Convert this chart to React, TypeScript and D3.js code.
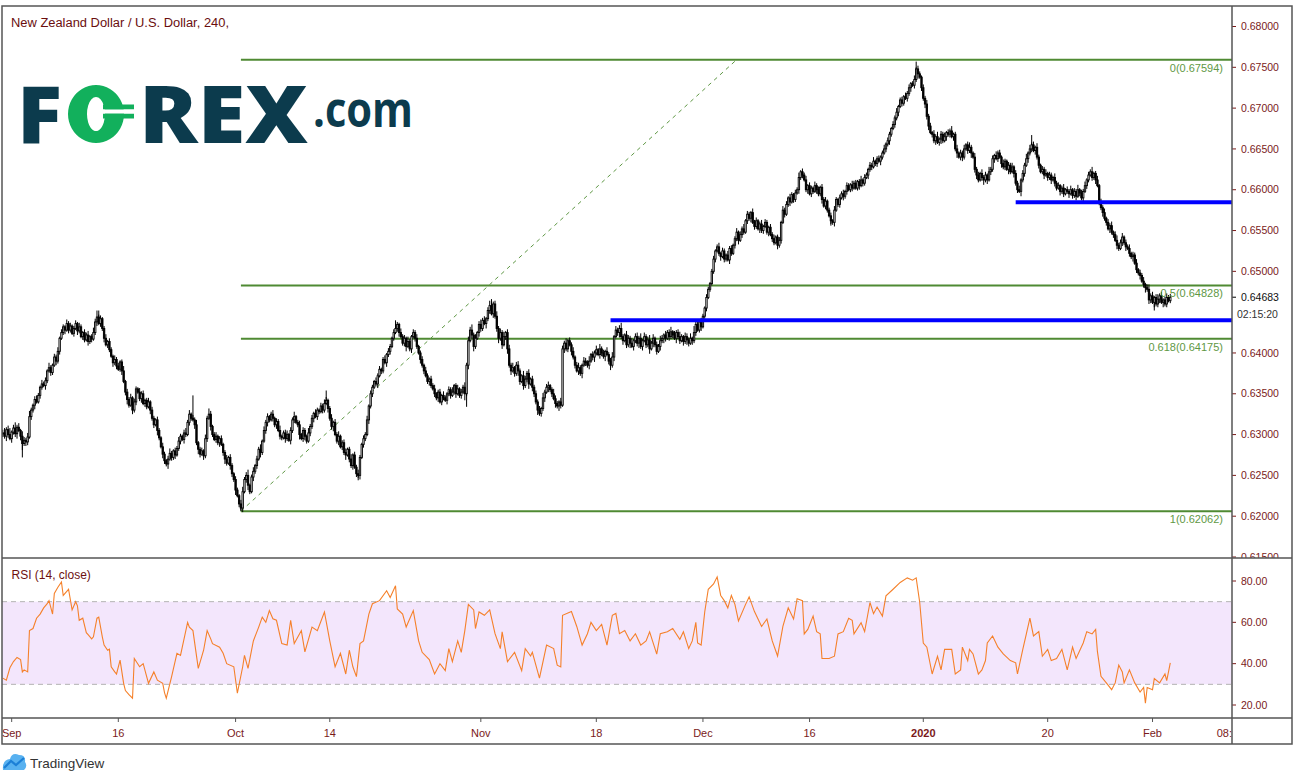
import React from "react";
import * as d3 from "d3";

// ---- DATA ----
// 4-hour closes, NZD/USD, one per bar (bar 0 = first bar on the left)
const closes = [
  0.6302, 0.6298, 0.6306, 0.6300, 0.6295, 0.6303, 0.6308, 0.6301, 0.6309, 0.6305, 0.6298, 0.6289, 0.6293, 0.6291, 0.6297, 0.6322,
  0.6330, 0.6336, 0.6343, 0.6340, 0.6348,
  0.6358, 0.6362, 0.6360, 0.6366,
  0.6378, 0.6382, 0.6376, 0.6385,
  0.6395, 0.6390, 0.6402,
  0.6418, 0.6425, 0.6432, 0.6428,
  0.6436, 0.6428, 0.6433, 0.6424, 0.6430, 0.6436,
  0.6427, 0.6432, 0.6420, 0.6425, 0.6416, 0.6422,
  0.6414, 0.6420, 0.6417, 0.6425,
  0.6438, 0.6444, 0.6436, 0.6442, 0.6430,
  0.6418, 0.6410, 0.6414, 0.6404,
  0.6396, 0.6388, 0.6392, 0.6384, 0.6380, 0.6389, 0.6378,
  0.6365, 0.6352, 0.6343, 0.6336, 0.6345, 0.6330,
  0.6340, 0.6356, 0.6352, 0.6344,
  0.6350, 0.6338, 0.6342, 0.6334, 0.6340, 0.6330,
  0.6320, 0.6312, 0.6318, 0.6305,
  0.6296, 0.6285, 0.6276, 0.6268, 0.6264,
  0.6270, 0.6277, 0.6272, 0.6280, 0.6275, 0.6283,
  0.6292, 0.6298, 0.6294, 0.6302, 0.6300,
  0.6315, 0.6325, 0.6320, 0.6318,
  0.6312, 0.6290, 0.6282, 0.6276, 0.6280, 0.6274,
  0.6295, 0.6320, 0.6325, 0.6310,
  0.6300, 0.6294, 0.6298, 0.6290, 0.6295, 0.6288,
  0.6278, 0.6270, 0.6265, 0.6272, 0.6262,
  0.6252, 0.6245, 0.6232, 0.6225, 0.6215, 0.6210,
  0.6230, 0.6245, 0.6250, 0.6238, 0.6230, 0.6248, 0.6255,
  0.6262, 0.6270, 0.6282, 0.6278, 0.6292,
  0.6305, 0.6315, 0.6322, 0.6318, 0.6325, 0.6320, 0.6312, 0.6316,
  0.6305, 0.6298, 0.6296, 0.6302, 0.6295, 0.6300, 0.6293, 0.6305,
  0.6318, 0.6322, 0.6315, 0.6312,
  0.6300, 0.6295, 0.6305, 0.6298, 0.6292, 0.6302, 0.6310,
  0.6320, 0.6326, 0.6322, 0.6330, 0.6328, 0.6335, 0.6330, 0.6338, 0.6342,
  0.6332, 0.6320, 0.6310, 0.6315,
  0.6300, 0.6292, 0.6298, 0.6285, 0.6290, 0.6278, 0.6275, 0.6282,
  0.6270, 0.6262, 0.6275, 0.6260, 0.6252, 0.6250,
  0.6272, 0.6288, 0.6295, 0.6300, 0.6318,
  0.6335, 0.6350, 0.6358, 0.6365, 0.6362, 0.6372,
  0.6380, 0.6378, 0.6392, 0.6388, 0.6398, 0.6402, 0.6408,
  0.6418, 0.6425, 0.6430, 0.6435, 0.6425, 0.6420,
  0.6412, 0.6418, 0.6408, 0.6414, 0.6405, 0.6420, 0.6425,
  0.6418, 0.6408, 0.6400, 0.6392,
  0.6385, 0.6378, 0.6372, 0.6365, 0.6368, 0.6360, 0.6356,
  0.6350, 0.6345, 0.6352, 0.6340, 0.6348, 0.6345, 0.6342, 0.6350,
  0.6355, 0.6348, 0.6352, 0.6360, 0.6350, 0.6356, 0.6348, 0.6352, 0.6358, 0.6350,
  0.6385,
  0.6415, 0.6428, 0.6422, 0.6408, 0.6418, 0.6425,
  0.6435, 0.6430, 0.6440, 0.6436, 0.6442,
  0.6452, 0.6458, 0.6448, 0.6460, 0.6445,
  0.6430, 0.6418, 0.6425, 0.6410, 0.6420,
  0.6425, 0.6405, 0.6385, 0.6378, 0.6382,
  0.6375, 0.6385, 0.6378, 0.6365, 0.6372, 0.6360, 0.6368, 0.6375,
  0.6362, 0.6368, 0.6358, 0.6350,
  0.6340, 0.6330, 0.6326, 0.6332,
  0.6345, 0.6352, 0.6358, 0.6360, 0.6355, 0.6350, 0.6344,
  0.6338, 0.6335, 0.6340, 0.6336,
  0.6405,
  0.6412, 0.6405, 0.6415, 0.6410, 0.6402, 0.6395, 0.6385,
  0.6378, 0.6382, 0.6375, 0.6385, 0.6390,
  0.6388, 0.6385, 0.6390, 0.6398, 0.6395,
  0.6400, 0.6404, 0.6398, 0.6405, 0.6400, 0.6396, 0.6402, 0.6398,
  0.6390, 0.6385, 0.6395,
  0.6420, 0.6428, 0.6425, 0.6430, 0.6420,
  0.6415, 0.6422, 0.6410, 0.6418, 0.6412, 0.6408, 0.6415,
  0.6420, 0.6412, 0.6418, 0.6408, 0.6415, 0.6420, 0.6410, 0.6416, 0.6405, 0.6412, 0.6418,
  0.6410, 0.6402, 0.6408, 0.6415,
  0.6418, 0.6422, 0.6418, 0.6425, 0.6420, 0.6426, 0.6422, 0.6418, 0.6425, 0.6420, 0.6415, 0.6420, 0.6414, 0.6420, 0.6416, 0.6412, 0.6418, 0.6415,
  0.6425, 0.6435, 0.6428,
  0.6438, 0.6432, 0.6445,
  0.6455, 0.6468, 0.6478, 0.6485,
  0.6500, 0.6515, 0.6525, 0.6530,
  0.6522, 0.6518, 0.6525, 0.6515, 0.6520, 0.6514,
  0.6528, 0.6522, 0.6532,
  0.6540, 0.6548, 0.6538, 0.6545,
  0.6552, 0.6548, 0.6562, 0.6570,
  0.6565, 0.6572, 0.6560,
  0.6555, 0.6562, 0.6552, 0.6558, 0.6550, 0.6555, 0.6560, 0.6548, 0.6554, 0.6545,
  0.6540, 0.6535, 0.6542, 0.6532, 0.6538,
  0.6560, 0.6575, 0.6570, 0.6582,
  0.6590, 0.6585, 0.6594, 0.6588, 0.6596, 0.6600,
  0.6615, 0.6622, 0.6618, 0.6612,
  0.6600, 0.6605, 0.6595, 0.6602, 0.6598, 0.6605, 0.6600, 0.6595, 0.6603,
  0.6588, 0.6580, 0.6586, 0.6575,
  0.6568, 0.6562, 0.6560,
  0.6575, 0.6588, 0.6582, 0.6590, 0.6595, 0.6592,
  0.6598, 0.6605, 0.6600, 0.6606, 0.6602,
  0.6608, 0.6602, 0.6610, 0.6605, 0.6612, 0.6608, 0.6615, 0.6618,
  0.6625, 0.6630, 0.6628, 0.6635, 0.6632, 0.6638, 0.6635, 0.6640,
  0.6645, 0.6650, 0.6656, 0.6660,
  0.6668, 0.6675, 0.6680, 0.6688, 0.6695,
  0.6702, 0.6710, 0.6706, 0.6714, 0.6712, 0.6718,
  0.6725, 0.6730, 0.6728, 0.6735,
  0.6748, 0.6742, 0.6738,
  0.6725, 0.6712, 0.6705,
  0.6690, 0.6678, 0.6670, 0.6668,
  0.6660, 0.6665, 0.6658, 0.6662,
  0.6668, 0.6660, 0.6665, 0.6670, 0.6668, 0.6672, 0.6665, 0.6668,
  0.6650, 0.6645, 0.6640, 0.6645, 0.6640,
  0.6650, 0.6655, 0.6648, 0.6652, 0.6645, 0.6640,
  0.6625, 0.6618, 0.6612, 0.6620, 0.6615, 0.6612,
  0.6618, 0.6612, 0.6622, 0.6625,
  0.6638, 0.6642, 0.6638, 0.6645, 0.6640,
  0.6632, 0.6628, 0.6635, 0.6625, 0.6630, 0.6622, 0.6628, 0.6620,
  0.6608, 0.6600, 0.6598,
  0.6612, 0.6620, 0.6630, 0.6638,
  0.6645, 0.6650, 0.6655, 0.6648, 0.6652, 0.6640,
  0.6630, 0.6622, 0.6625,
  0.6618, 0.6620, 0.6615, 0.6618, 0.6612, 0.6615,
  0.6608, 0.6602, 0.6605, 0.6598, 0.6602, 0.6595, 0.6600, 0.6598,
  0.6595, 0.6600, 0.6593, 0.6598, 0.6592, 0.6600, 0.6596, 0.6590, 0.6598, 0.6605,
  0.6612, 0.6618, 0.6622, 0.6615, 0.6620, 0.6612, 0.6605,
  0.6585, 0.6578, 0.6572,
  0.6565, 0.6560, 0.6552, 0.6556, 0.6548, 0.6545,
  0.6538, 0.6532, 0.6528, 0.6535,
  0.6542, 0.6535, 0.6530, 0.6528,
  0.6522, 0.6518, 0.6520,
  0.6510, 0.6502, 0.6498, 0.6495,
  0.6488, 0.6484, 0.6480, 0.6478,
  0.6465, 0.6470, 0.6462, 0.6468, 0.6460, 0.6466, 0.6470, 0.6462, 0.6465, 0.6460, 0.6468, 0.6464, 0.64683,
];

// estimated upper / lower wick length of each bar, in pips (0.0001)
const wickUpPips = [
  4,6,3,5,8,2,4,7,3,5,2,6,4,3,5,7,3,2,4,5,
  3,2,5,3,4,2,6,3,2,4,3,5,2,4,3,2,5,3,4,2,
  3,4,2,5,3,2,4,3,5,2,3,6,4,8,3,4,2,3,5,2,
  4,3,2,5,3,4,2,3,6,2,4,3,5,2,4,3,2,5,3,4,
  2,3,5,2,4,3,2,4,3,2,5,3,2,4,6,3,2,4,3,5,
  3,2,4,6,3,5,2,4,3,6,2,3,4,2,5,3,7,4,2,3,
  5,2,3,4,2,3,5,2,4,3,2,4,3,2,5,6,3,4,7,2,
  3,5,2,4,3,6,2,5,3,4,2,3,5,2,4,3,6,2,3,4,
  5,2,4,3,6,2,3,5,2,4,3,2,6,3,4,2,5,3,2,4,
  3,5,4,2,3,5,2,4,3,6,2,3,4,5,2,3,6,2,4,3,
  5,3,2,4,3,5,2,4,3,2,5,3,4,2,3,5,2,4,3,2,
  4,6,3,2,5,3,4,2,6,3,2,4,3,5,2,3,4,2,5,3,
  2,4,3,5,2,3,4,2,5,3,2,4,3,6,2,3,5,2,4,3,
  6,3,5,4,7,3,5,2,4,6,3,5,2,4,6,5,3,4,6,3,
  5,3,6,2,4,5,3,6,2,4,5,3,2,6,4,3,5,2,4,3,
  4,3,5,2,6,3,4,5,2,3,6,4,3,2,5,4,3,6,2,4,
  3,5,2,4,6,3,2,5,4,3,6,2,4,3,5,2,6,3,4,2,
  5,3,4,6,2,5,3,4,7,3,2,5,4,3,6,2,4,5,3,6,
  2,5,3,4,6,3,5,2,4,3,6,4,2,5,3,4,6,2,5,3,
  4,6,3,2,5,4,3,6,2,8,3,4,2,5,3,2,4,3,2,3,
  4,2,3,5,2,4,3,2,5,3,4,2,3,5,2,4,3,6,2,4,
  3,2,5,3,4,2,3,5,2,4,3,2,4,3,5,2,3,4,2,5,
  3,4,2,5,3,2,4,3,6,2,4,3,5,2,4,3,2,5,3,4,
  2,4,3,5,2,3,4,2,5,3,2,4,3,5,2,4,3,2,5,3,
  4,2,3,5,2,4,3,2,4,3,5,2,3,4,2,3,5,2,4,3,
  2,4,3,5,2,3,4,2,5,3,4,2,3,5,2,4,3,2,4,3,
  5,3,4,2,5,3,6,2,4,3,5,2,4,3,6,2,3,5,2,4,
  3,5,2,4,6,3,2,5,3,4,2,5,3,4,2,6,3,4,2,5,
  3,4,2,5,3,2,4,3,5,2,4,3,5,2,4,3,6,2,5,3,
  4,2,5,3,2,4,3,5,2,4,3,2,5,3,4,2,3,5,2,4,
  3,5,2,4,3,6,2,4,3,5,2,4,3,6,2,3,5,2,4,3,
  5,2,4,3,5,2,4,6,3,4,5,2,4,3,5,2,4,3,5,2,
  4,3,5,2,4,6,3,5,2,4,6,3,5,2,4,5,3,4,
];
const wickDownPips = [
  5,3,6,4,2,5,3,4,6,2,5,8,3,5,4,2,4,3,5,2,
  2,4,3,2,5,3,2,4,3,2,5,3,4,2,3,5,2,4,3,2,
  4,2,5,3,2,4,3,2,5,3,4,2,3,5,2,4,3,5,2,4,
  3,2,5,3,4,2,3,5,2,4,6,3,2,5,3,4,2,3,5,2,
  4,3,2,5,3,4,2,6,3,2,5,4,3,6,2,4,3,5,2,3,
  4,2,5,3,2,4,3,2,5,3,6,4,2,5,3,4,2,5,3,2,
  4,3,5,2,4,6,3,2,5,4,3,6,2,4,3,5,2,4,6,3,
  2,5,3,4,2,6,3,2,4,5,3,2,4,3,5,2,4,3,2,5,
  3,2,5,3,4,2,3,6,2,4,5,3,2,4,3,5,2,4,3,2,
  4,3,2,5,3,4,6,2,3,5,2,4,3,6,2,4,3,5,2,4,
  3,5,2,4,3,2,5,3,4,2,3,5,2,4,3,2,5,3,4,2,
  3,2,4,5,2,3,4,6,2,3,5,2,4,3,2,5,3,4,2,3,
  5,3,2,4,3,5,2,4,3,2,5,3,4,2,3,5,2,3,4,2,
  8,3,5,2,4,6,3,2,5,4,3,2,6,3,4,2,5,3,4,6,
  3,5,2,4,6,3,5,2,4,3,6,4,2,5,3,4,6,2,5,4,
  3,6,2,4,3,5,2,6,3,4,2,5,3,6,4,2,5,3,4,2,
  5,3,4,2,5,3,6,2,4,3,5,2,4,6,3,2,5,4,3,6,
  2,4,6,3,5,2,4,6,3,5,2,4,3,6,2,5,3,4,6,3,
  5,2,4,3,6,2,5,3,4,2,5,3,6,4,2,5,3,4,2,6,
  3,4,2,5,3,6,4,2,5,3,4,2,3,5,2,3,4,2,3,2,
  3,4,2,3,5,2,4,3,2,5,3,2,4,3,5,2,4,3,2,4,
  3,5,2,4,3,2,5,3,4,2,3,5,2,4,3,2,5,3,4,2,
  4,2,3,5,2,4,3,2,5,3,4,2,3,5,2,4,3,2,5,3,
  3,5,2,4,3,2,4,3,5,2,3,4,2,5,3,4,2,3,4,2,
  2,3,5,2,4,3,2,5,3,4,2,3,4,2,5,3,2,4,3,5,
  3,2,4,3,5,2,4,3,2,4,3,5,2,4,3,6,2,4,3,5,
  4,5,2,4,3,5,2,4,6,3,2,5,3,4,2,5,3,6,2,4,
  5,3,2,4,3,6,2,4,5,3,2,4,6,3,5,2,4,3,5,2,
  4,2,5,3,4,2,6,3,2,5,3,4,2,6,3,4,2,5,3,4,
  2,5,3,4,2,3,5,2,4,3,5,2,4,3,2,5,3,4,2,3,
  5,2,4,3,5,2,4,3,5,2,4,3,2,4,3,5,2,4,3,5,
  3,4,2,5,3,4,2,5,3,2,4,3,5,2,4,3,6,2,4,3,
  5,2,4,6,3,5,4,2,6,3,4,5,2,6,3,4,2,3,
];

// visible long wicks
const spikeBars = [11, 54, 107, 134, 182, 200, 221, 261, 275, 302, 466, 514, 579, 648];
const spikePrices = [0.6272, 0.6452, 0.6348, 0.6206, 0.6354, 0.6244, 0.644, 0.6334, 0.6466, 0.6323, 0.6556, 0.6757, 0.6667, 0.6452];

// RSI(14, close) readings: bar index -> value
const rsiBars = [
  0, 2, 4, 6, 8, 10, 11, 12, 14, 15, 17, 19, 21, 23, 25, 26, 28, 29, 31, 33, 34, 36, 37, 39, 41, 42, 43, 45, 47, 48, 50, 51,
  53, 54, 56, 57, 59, 60, 61, 63, 64, 66, 68, 69, 71, 73, 74, 77, 79, 82, 85, 87, 90, 91, 92, 95, 98, 100, 101, 104, 105, 107,
  110, 113, 115, 117, 118, 122, 124, 126, 130, 132, 135, 136, 138, 141, 144, 146, 148, 150, 152, 154, 157, 160, 162, 164, 168,
  170, 174, 177, 181, 184, 187, 190, 193, 195, 197, 199, 201, 203, 206, 208, 212, 216, 218, 221, 222, 225, 227, 231, 234,
  236, 240, 243, 246, 249, 251, 253, 256, 258, 260, 262, 265, 266, 268, 271, 274, 277, 280, 281, 284, 288, 292, 294, 297, 298,
  302, 306, 310, 312, 314, 315, 320, 323, 326, 329, 331, 334, 337, 340, 343, 345, 347, 350, 353, 356, 359, 362, 364, 368, 370,
  374, 377, 381, 383, 386, 388, 390, 391, 393, 395, 397, 400, 402, 404, 406, 408, 410, 412, 414, 418, 420, 423, 427, 430, 433,
  436, 439, 442, 445, 447, 450, 451, 453, 456, 458, 460, 461, 465, 468, 470, 473, 476, 478, 479, 483, 485, 488, 490, 492, 495,
  497, 501, 505, 509, 512, 514, 516, 518, 520, 523, 526, 528, 530, 534, 536, 539, 540, 543, 544, 546, 549, 551, 553, 554, 557,
  560, 563, 567, 570, 571, 574, 576, 578, 580, 583, 585, 588, 590, 593, 596, 599, 602, 604, 608, 610, 613, 615, 616, 618, 621,
  624, 626, 628, 630, 631, 634, 637, 640, 642, 643, 644, 647, 648, 651, 654, 655, 657,
];
const rsiValues = [
  33, 32, 38, 41, 43, 42, 36, 37, 36, 56, 57, 62, 64, 67, 69, 70.5, 64, 74, 77, 79.5, 73, 75, 76, 66, 70, 68, 61, 62, 55, 54, 52, 53,
  62, 62.5, 53, 49, 46.5, 47, 38.5, 36, 35, 41.7, 30.5, 27, 25, 23.3, 42.5, 38.5, 40, 30.5, 36, 32, 30.5, 26, 23.3, 33.7, 45, 44, 48, 60, 57.7, 56,
  37.7, 46.5, 56, 52, 49.7, 48, 45, 40, 38.5, 25.7, 38.5, 44, 37.7, 51, 57.7, 62.5, 60, 65.7, 61.7, 61, 49.7, 49, 61, 49.7, 56,
  45.7, 57.7, 56, 65, 51, 38.5, 45, 35, 46.5, 38.5, 33.7, 49.7, 51, 64, 69, 70.5, 75.3, 72, 77.7, 66.5, 64, 57.7, 65.7, 51,
  45.5, 42, 35, 40, 36.6, 47.3, 41, 51, 45.5, 56, 68.7, 66, 57, 65, 63.4, 66, 54.5, 47.3, 55.4, 41, 45.5, 36.6, 47.3, 43.7, 45.5,
  33, 49, 47.3, 39.3, 38.4, 63.4, 65.2, 58, 49, 54.5, 60, 56, 59, 49, 63.4, 64.3, 54.5, 56, 51, 54.5, 49, 51, 55.4, 44.6, 54.5,
  55.4, 57, 51.8, 55.4, 47.3, 51, 60, 50, 49, 65, 76, 78.6, 82, 73, 70.5, 67, 73, 68.7, 60.7, 68.7, 72.3, 65.2, 58, 61.6, 51,
  43.7, 58, 67, 61.6, 71.4, 70.5, 54.4, 56.6, 63, 55.5, 54.4, 42.5, 42.5, 43.6, 54.4, 55.5, 62, 61, 54.4, 59.8, 55.5, 69.6, 64.2, 67.4, 63,
  72.8, 76, 79.3, 81.5, 80.4, 81.5, 69.6, 50, 48, 35, 43.6, 37, 46.9, 46.9, 35, 37, 48, 41.5, 46.9, 44.7, 35, 37, 41.5, 50, 53.4,
  48, 44.7, 41.5, 40.4, 35, 46.9, 54.4, 62, 53.4, 55.5, 43.6, 46.9, 41.5, 42.5, 46.9, 37, 48, 42.5, 50, 55.5, 54.4, 56.6, 45.8, 33.9, 30.7,
  27.4, 30.7, 39.3, 36, 30.7, 37, 30.7, 26.3, 28.5, 20.9, 28.5, 27.4, 32.8, 30.7, 35, 31.8, 40.4,
];

const priceTicks = [0.615, 0.62, 0.625, 0.63, 0.635, 0.64, 0.645, 0.65, 0.655, 0.66, 0.665, 0.67, 0.675, 0.68];
const rsiTicks = [20, 40, 60, 80];
const rsiBand = [30, 70];
const timeLabels = ["Sep", "16", "Oct", "14", "Nov", "18", "Dec", "16", "2020", "20", "Feb"];
const timeBars = [5, 65, 131, 184, 269, 334, 394, 454, 518, 588, 647];
const futureLabel = "08:";

const fibNames = ["0", "0.5", "0.618", "1"];
const fibPrices = [0.67594, 0.64828, 0.64175, 0.62062];
const fibFromBar = 134; // swing low
const fibToBar = 413; // trend line end
const levelPrices = [0.65848, 0.64402];
const levelFromBars = [570, 342];
const lastPrice = 0.64683;
const countdown = "02:15:20";

// ---- LAYOUT ----
const W = 1299;
const H = 782;
const L = 2;
const R = 1232; // price axis divider
const RR = 1292;
const T = 6;
const MAIN_B = 558;
const RSI_B = 718;
const AX_B = 744;

const maroon = "#7a1a1a";
const frame = "#555555";
const green = "#4f8a33";
const fibText = "#5f9845";
const font = "'Liberation Sans', Arial, sans-serif";
const PIP = 0.0001;

export default function App() {
  const n = closes.length;
  const x = d3.scaleLinear().domain([0, n - 1]).range([2.8, 2.8 + (n - 1) * 1.777]);
  const y = d3.scaleLinear().domain([0.615, 0.68]).range([557, 26.5]);
  const yr = d3.scaleLinear().domain([20, 80]).range([705, 581]);
  const fmt = d3.format(".5f");
  const fmt2 = d3.format(".2f");

  const rsiLine = d3
    .line<number>()
    .x((_, i) => x(rsiBars[i]))
    .y((d) => yr(d))(rsiValues) as string;

  const candles = closes.map((c, i) => {
    const o = i > 0 ? closes[i - 1] : c;
    const hiBody = Math.max(o, c);
    const loBody = Math.min(o, c);
    const hi = hiBody + (wickUpPips[i] ?? 0) * PIP;
    const lo = loBody - (wickDownPips[i] ?? 0) * PIP;
    const top = y(hiBody);
    const bot = y(loBody);
    const up = c >= o;
    return (
      <g key={i}>
        <line x1={x(i)} x2={x(i)} y1={y(hi)} y2={y(lo)} stroke="#000" strokeWidth={1} />
        <rect
          x={x(i) - 0.7}
          y={top}
          width={1.4}
          height={Math.max(1, bot - top)}
          fill={up ? "#ffffff" : "#000000"}
          stroke="#000000"
          strokeWidth={0.9}
        />
      </g>
    );
  });

  const spikes = spikeBars.map((b, k) => {
    const c = closes[b];
    const o = b > 0 ? closes[b - 1] : c;
    const p = spikePrices[k];
    const base = p > c ? Math.max(o, c) : Math.min(o, c);
    return <line key={k} x1={x(b)} x2={x(b)} y1={y(base)} y2={y(p)} stroke="#000" strokeWidth={1} />;
  });

  // axis labels hidden behind the last-price / countdown marker
  const yLast = y(lastPrice);
  const shownTicks = priceTicks.filter((p) => {
    const d = y(p) - yLast;
    return d < -10 || d > 26;
  });

  return (
    <svg width={W} height={H} style={{ position: "absolute", left: 0, top: 0, background: "#fff" }}>
      <defs>
        <clipPath id="mainClip">
          <rect x={L} y={T} width={R - L} height={MAIN_B - T} />
        </clipPath>
        <clipPath id="rsiClip">
          <rect x={L} y={MAIN_B} width={R - L} height={RSI_B - MAIN_B} />
        </clipPath>
        <clipPath id="paxClip">
          <rect x={R} y={T} width={RR - R} height={MAIN_B - T} />
        </clipPath>
        <clipPath id="taxClip">
          <rect x={L} y={RSI_B} width={R - L} height={AX_B - RSI_B} />
        </clipPath>
      </defs>
      <rect x={0} y={0} width={W} height={H} fill="#fff" />

      {/* title */}
      <text x={11} y={26.5} fontFamily={font} fontSize={12.5} fill="#6a0e0e" textLength={218} lengthAdjust="spacingAndGlyphs">
        New Zealand Dollar / U.S. Dollar, 240,
      </text>

      {/* FOREX.com logo */}
      <g>
        <text x={17} y={143} fontFamily="'Open Sans', Roboto, sans-serif" fontWeight={800} fontSize={80} fill="#0c3b4d" textLength={45} lengthAdjust="spacingAndGlyphs">F</text>
        <path
          d="M96,85 a28,29 0 1,0 0.01,0 Z M96,97 a9,17 0 1,1 -0.01,0 Z"
          fill="#12b05c"
          fillRule="evenodd"
        />
        <rect x={103} y={104.5} width={31} height={5} fill="#12b05c" />
        <rect x={103} y={113.5} width={31} height={5} fill="#12b05c" />
        <rect x={103} y={109.5} width={31} height={4} fill="#ffffff" />
        <text x={139} y={143} fontFamily="'Open Sans', Roboto, sans-serif" fontWeight={800} fontSize={80} fill="#0c3b4d" textLength={169} lengthAdjust="spacingAndGlyphs">REX</text>
        <text x={313} y={127} fontFamily="'Open Sans', Roboto, sans-serif" fontWeight={700} fontSize={48} fill="#0c3b4d" textLength={100} lengthAdjust="spacingAndGlyphs">.com</text>
      </g>

      {/* main panel */}
      <g clipPath="url(#mainClip)">
        {fibPrices.map((p, k) => (
          <line key={k} x1={x(fibFromBar)} x2={R} y1={y(p)} y2={y(p)} stroke={green} strokeWidth={2} />
        ))}
        <line
          x1={x(fibFromBar)}
          y1={y(fibPrices[3])}
          x2={x(fibToBar)}
          y2={y(fibPrices[0])}
          stroke="#5f9845"
          strokeWidth={1}
          strokeDasharray="4 4"
        />
        {candles}
        {spikes}
        {levelPrices.map((p, k) => (
          <line key={k} x1={x(levelFromBars[k])} x2={R} y1={y(p)} y2={y(p)} stroke="#0000ff" strokeWidth={4} />
        ))}
        {fibNames.map((nm, k) => (
          <text key={k} x={1223} y={y(fibPrices[k]) + 12} textAnchor="end" fontFamily={font} fontSize={11} fill={fibText}>
            {`${nm}(${fmt(fibPrices[k])})`}
          </text>
        ))}
      </g>

      {/* price axis */}
      <g clipPath="url(#paxClip)">
        {shownTicks.map((p, k) => (
          <g key={k}>
            <line x1={R} x2={R + 4} y1={y(p)} y2={y(p)} stroke={maroon} strokeWidth={1} />
            <text x={1241} y={y(p)} dy="0.35em" fontFamily={font} fontSize={10.5} fill={maroon}>
              {fmt(p)}
            </text>
          </g>
        ))}
        <line x1={R} x2={R + 4} y1={yLast} y2={yLast} stroke="#000" strokeWidth={1} />
        <text x={1241} y={yLast} dy="0.35em" fontFamily={font} fontSize={10.5} fill="#111">
          {fmt(lastPrice)}
        </text>
        <text x={1237} y={yLast + 17} dy="0.35em" fontFamily={font} fontSize={10.5} fill="#333">
          {countdown}
        </text>
      </g>

      {/* RSI panel */}
      <g clipPath="url(#rsiClip)">
        <rect x={L} y={yr(rsiBand[1])} width={R - L} height={yr(rsiBand[0]) - yr(rsiBand[1])} fill="#f3e6fc" />
        {rsiBand.map((v, k) => (
          <line key={k} x1={L} x2={R} y1={yr(v)} y2={yr(v)} stroke="#b3b3b3" strokeWidth={1} strokeDasharray="5 4" />
        ))}
        <path d={rsiLine} fill="none" stroke="#f5802a" strokeWidth={1.1} />
        <text x={11.5} y={579} fontFamily={font} fontSize={12} fill="#6e1010">
          RSI (14, close)
        </text>
      </g>
      {rsiTicks.map((v, k) => (
        <g key={k}>
          <line x1={R} x2={R + 4} y1={yr(v)} y2={yr(v)} stroke={maroon} strokeWidth={1} />
          <text x={1241} y={yr(v)} dy="0.35em" fontFamily={font} fontSize={10.5} fill={maroon}>
            {fmt2(v)}
          </text>
        </g>
      ))}

      {/* time axis */}
      <g clipPath="url(#taxClip)">
        {timeBars.map((b, k) => (
          <g key={k}>
            <line x1={x(b)} x2={x(b)} y1={RSI_B} y2={RSI_B + 4} stroke={frame} strokeWidth={1} />
            <text
              x={x(b)}
              y={736.5}
              textAnchor="middle"
              fontFamily={font}
              fontSize={11}
              fontWeight={timeLabels[k] === "2020" ? 700 : 400}
              fill={maroon}
            >
              {timeLabels[k]}
            </text>
          </g>
        ))}
        <text x={R} y={736.5} textAnchor="end" fontFamily={font} fontSize={11} fill={maroon}>
          {futureLabel}
        </text>
      </g>

      {/* frame */}
      <rect x={L} y={T} width={RR - L} height={AX_B - T} fill="none" stroke={frame} strokeWidth={1.5} />
      <line x1={R} x2={R} y1={T} y2={AX_B} stroke={frame} strokeWidth={1.5} />
      <line x1={L} x2={RR} y1={MAIN_B} y2={MAIN_B} stroke={frame} strokeWidth={1.5} />
      <line x1={L} x2={RR} y1={RSI_B} y2={RSI_B} stroke={frame} strokeWidth={1.5} />

      {/* TradingView logo */}
      <g>
        <path d="M3,770 Q2,760 10,759 Q12,752 19,755 Q26,755 25,762 Q28,766 24,770 Z" fill="#58b1f0" />
        <path d="M4,768 L11,761 L16,765 L24,758" fill="none" stroke="#1c7fd6" strokeWidth={2.2} />
        <text x={30} y={768} fontFamily={font} fontSize={13.5} fill="#333">
          TradingView
        </text>
      </g>
    </svg>
  );
}
